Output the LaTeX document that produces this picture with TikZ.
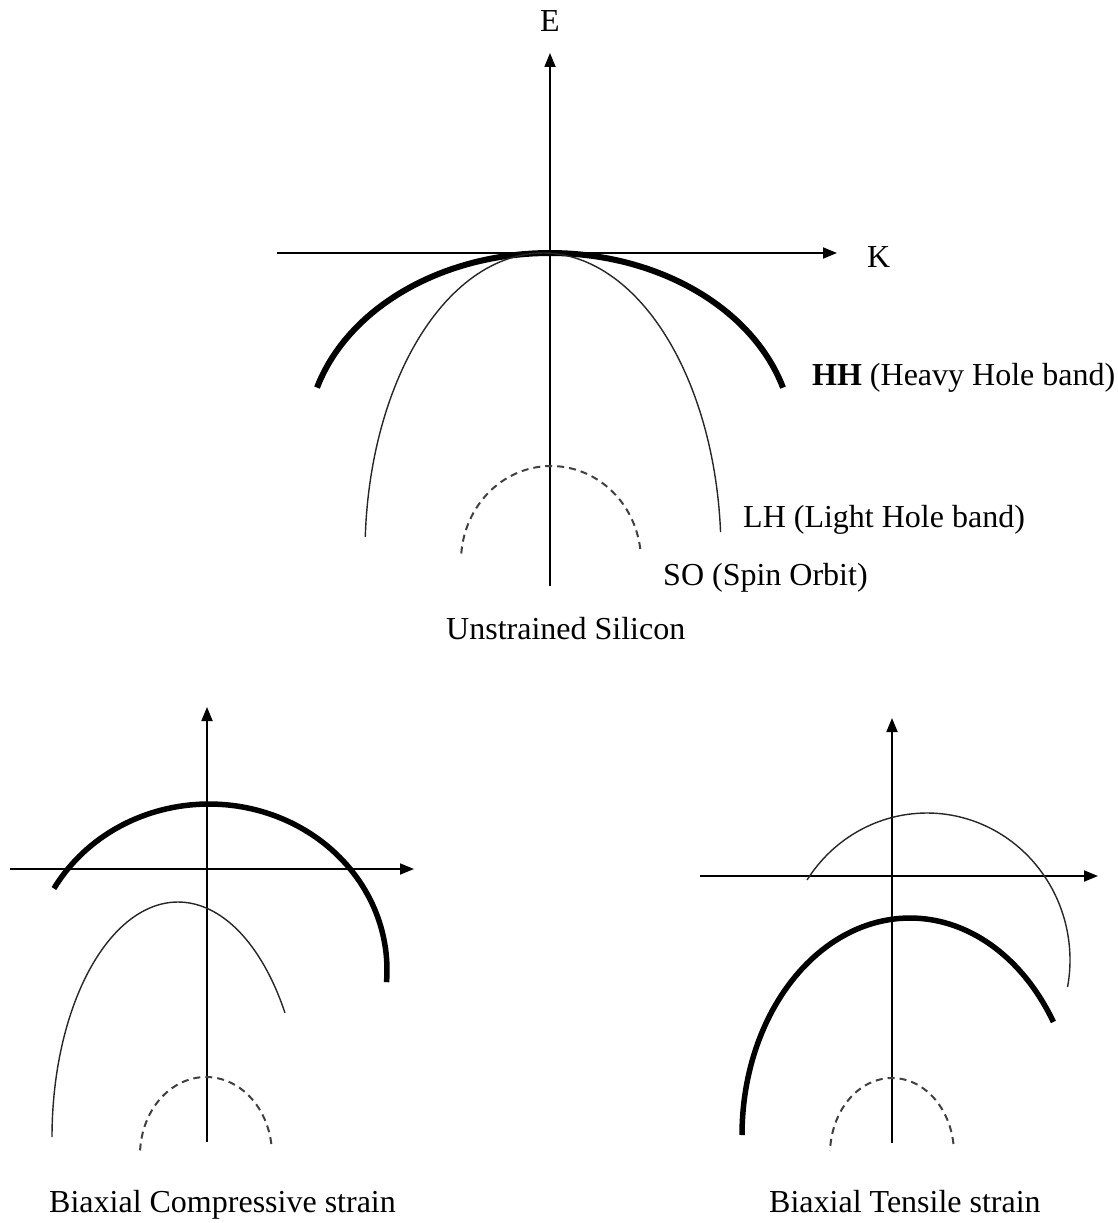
\documentclass[tikz,border=0pt]{standalone}
\usepackage{fontspec}
\setmainfont{Liberation Serif}
\usetikzlibrary{arrows.meta}
\begin{document}
\begin{tikzpicture}[x=1pt,y=-1pt,
  axis/.style={line width=1.8pt, -{Triangle[length=14pt,width=11pt]}},
  hhband/.style={line width=6pt},
  lhband/.style={line width=1.4pt, black!85},
  soband/.style={line width=2pt, black!75, dash pattern=on 7pt off 5pt},
  lbl/.style={font=\fontsize{32}{38}\selectfont, inner sep=0pt, anchor=base west}]
\useasboundingbox (0,0) rectangle (1118,1223);

% ---------- Top: unstrained silicon ----------
\coordinate (tvB) at (550,586);
\coordinate (tvT) at (550,53);
\coordinate (thL) at (277,253);
\coordinate (thR) at (837,253);
\draw[axis] (tvB) -- (tvT);
\draw[axis] (thL) -- (thR);
\draw[hhband] plot[domain=16.5:163.5, samples=90, variable=\t] ({550+243*cos(\t)},{441-188*sin(\t)});
\draw[lhband] plot[domain=4:176.9, samples=120, variable=\t] ({543+178*cos(\t)},{553-300*sin(\t)});
\draw[soband] plot[domain=7.3:178, samples=80, variable=\t] ({551+90*cos(\t)},{561-95*sin(\t)});

\node[lbl, anchor=base] (E) at (550,32) {E};
\node[lbl] (K) at (867,267) {K};
\node[lbl] (HH) at (812,385) {\textbf{HH} (Heavy Hole band)};
\node[lbl] (LH) at (743,527) {LH (Light Hole band)};
\node[lbl] (SO) at (663,585) {SO (Spin Orbit)};
\node[lbl] (uns) at (446,639) {Unstrained Silicon};

% ---------- Bottom left: biaxial compressive ----------
\coordinate (lvB) at (207,1142);
\coordinate (lvT) at (207,707);
\coordinate (lhL) at (10,869);
\coordinate (lhR) at (414,869);
\draw[axis] (lvB) -- (lvT);
\draw[axis] (lhL) -- (lhR);
\draw[hhband, line width=5.5pt] plot[domain=-4.2:150.6, samples=90, variable=\t] ({209+178*cos(\t)},{970-166*sin(\t)});
\draw[lhband] plot[domain=31.9:180, samples=90, variable=\t] ({178+126*cos(\t)},{1137-235*sin(\t)});
\draw[soband] plot[domain=8.1:177.8, samples=70, variable=\t] ({206+66*cos(\t)},{1155-78*sin(\t)});
\node[lbl] (comp) at (49,1212) {Biaxial Compressive strain};

% ---------- Bottom right: biaxial tensile ----------
\coordinate (rvB) at (892,1143);
\coordinate (rvT) at (892,718);
\coordinate (rhL) at (700,876);
\coordinate (rhR) at (1098,876);
\draw[axis] (rvB) -- (rvT);
\draw[axis] (rhL) -- (rhR);
\draw[lhband] plot[domain=-10.6:147, samples=90, variable=\t] ({927+143*cos(\t)},{960-147*sin(\t)});
\draw[hhband, line width=5.5pt] plot[domain=31.4:180, samples=90, variable=\t] ({910+168*cos(\t)},{1135-217*sin(\t)});
\draw[soband] plot[domain=7.6:177.7, samples=70, variable=\t] ({892+62*cos(\t)},{1154-76*sin(\t)});
\node[lbl] (tens) at (769,1212) {Biaxial Tensile strain};
\end{tikzpicture}
\end{document}
